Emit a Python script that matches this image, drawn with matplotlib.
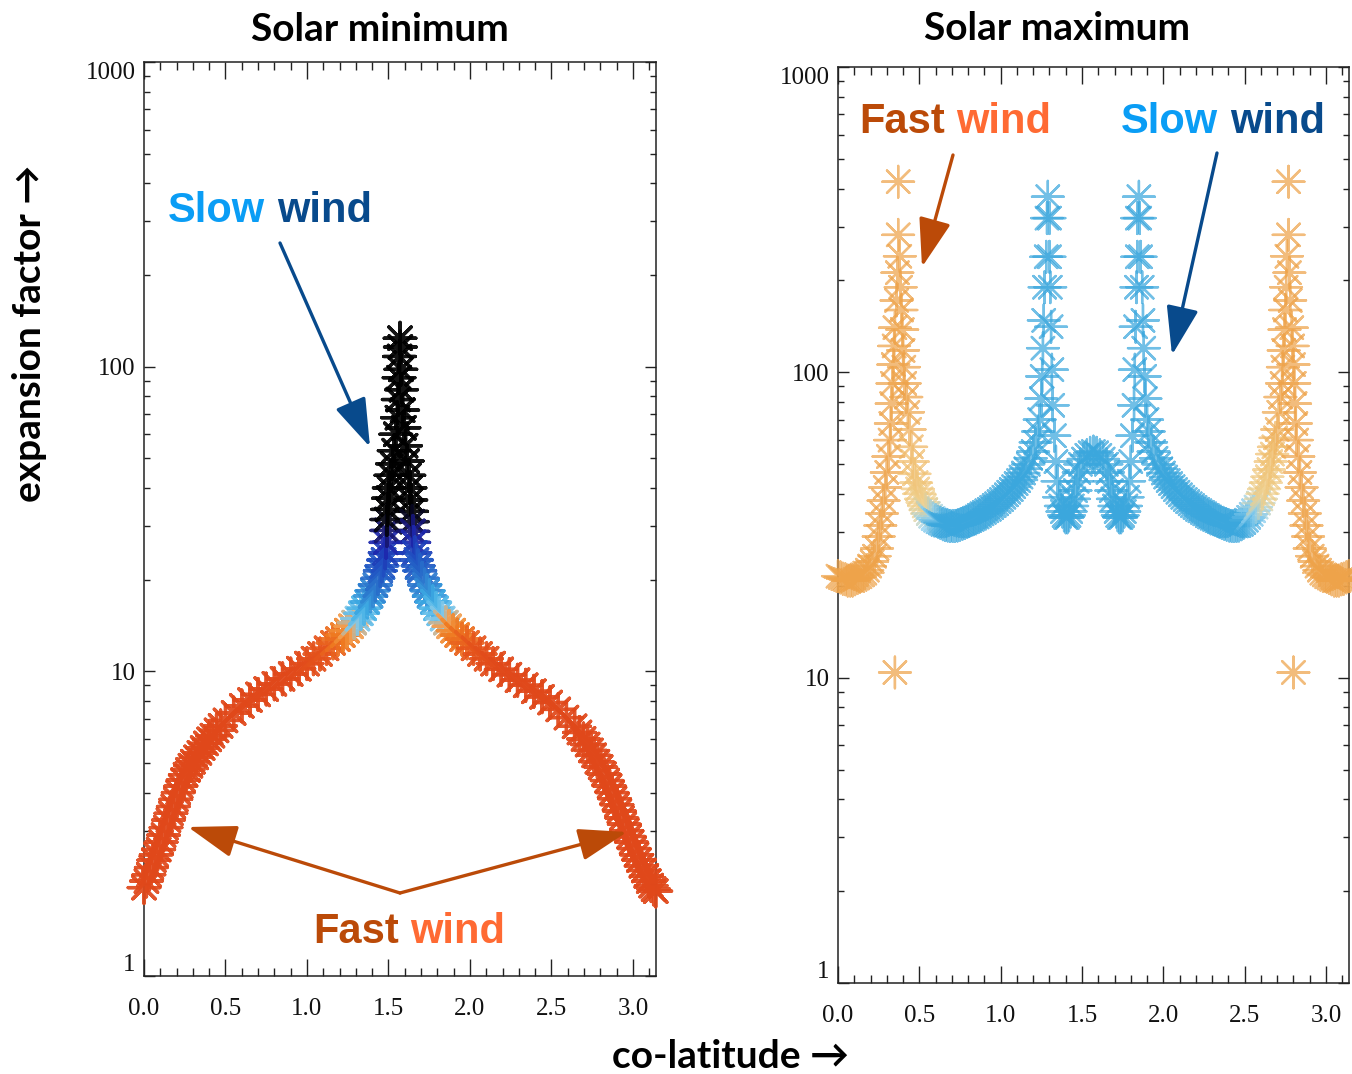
import numpy as np
import matplotlib
matplotlib.use("Agg")
import matplotlib.pyplot as plt
from matplotlib.colors import LinearSegmentedColormap, LogNorm, Normalize
from matplotlib.ticker import MultipleLocator, FixedLocator, FormatStrFormatter, NullFormatter
from matplotlib.patches import FancyArrowPatch
from matplotlib.text import Annotation

# ---- solar minimum (co-latitude in rad, expansion factor) ----
min_north_theta = [0.000, 0.015, 0.030, 0.045, 0.060, 0.075, 0.090, 0.105, 0.120, 0.135,
                   0.150, 0.165, 0.180, 0.195, 0.210, 0.225, 0.240, 0.255, 0.270, 0.285,
                   0.300, 0.320, 0.340, 0.360, 0.380, 0.400, 0.420, 0.445, 0.470, 0.500,
                   0.550, 0.600, 0.650, 0.700, 0.750, 0.800, 0.850, 0.900, 0.950, 1.000,
                   1.040, 1.080, 1.120, 1.160, 1.190, 1.220, 1.245, 1.270, 1.290, 1.310,
                   1.330, 1.350, 1.370, 1.390, 1.405, 1.420, 1.435, 1.450, 1.460, 1.470,
                   1.480, 1.485, 1.490, 1.490, 1.495, 1.500, 1.505, 1.515, 1.525, 1.535,
                   1.545, 1.555, 1.560, 1.565, 1.568, 1.571]
min_north_f = [1.95, 2.05, 2.15, 2.27, 2.40, 2.50, 2.60, 2.75, 2.90, 3.07,
               3.25, 3.42, 3.60, 3.80, 4.00, 4.20, 4.40, 4.58, 4.75, 4.90,
               5.05, 5.22, 5.40, 5.60, 5.80, 5.98, 6.15, 6.40, 6.62, 6.90,
               7.30, 7.70, 8.05, 8.40, 8.75, 9.10, 9.45, 9.80, 10.2, 10.6,
               11.0, 11.4, 11.9, 12.4, 12.75, 13.15, 13.6, 14.05, 14.45, 14.9,
               15.5, 16.1, 16.9, 17.7, 18.4, 19.2, 20.2, 21.4, 22.2, 23.2,
               24.5, 26.5, 29.0, 31.5, 34.0, 37.0, 40.0, 44.0, 48.0, 53.0,
               60.0, 68.0, 78.0, 92.0, 108.0, 124.0]

min_south_theta = [1.573, 1.576, 1.580, 1.587, 1.595, 1.605, 1.615, 1.625, 1.632, 1.637,
                   1.642, 1.646, 1.650, 1.655, 1.662, 1.672, 1.682, 1.692, 1.707, 1.722,
                   1.737, 1.752, 1.772, 1.792, 1.812, 1.832, 1.852, 1.872, 1.897, 1.922,
                   1.952, 1.982, 2.022, 2.062, 2.102, 2.142, 2.192, 2.242, 2.292, 2.342,
                   2.392, 2.442, 2.492, 2.542, 2.592, 2.642, 2.672, 2.697, 2.722, 2.742,
                   2.762, 2.782, 2.802, 2.822, 2.842, 2.857, 2.872, 2.887, 2.902, 2.917,
                   2.932, 2.947, 2.962, 2.977, 2.992, 3.007, 3.022, 3.037, 3.052, 3.067,
                   3.082, 3.097, 3.112, 3.127, 3.140]
min_south_f = [116, 98, 84, 72, 63, 55, 49, 44, 40, 36.5,
               33.5, 31, 28.8, 26.5, 24.5, 23.2, 22.2, 21.4, 20.2, 19.2,
               18.4, 17.7, 16.9, 16.1, 15.5, 14.9, 14.45, 14.05, 13.6, 13.15,
               12.75, 12.4, 11.9, 11.4, 11.0, 10.6, 10.15, 9.75, 9.35, 9.0,
               8.6, 8.25, 7.9, 7.5, 7.05, 6.6, 6.3, 6.0, 5.75, 5.5,
               5.3, 5.05, 4.85, 4.6, 4.38, 4.2, 4.0, 3.82, 3.65, 3.48,
               3.3, 3.15, 3.0, 2.87, 2.75, 2.62, 2.5, 2.4, 2.3, 2.22,
               2.13, 2.05, 1.98, 1.93, 1.9]

# ---- solar maximum, segment by segment from north to south pole ----
cap_n_theta = [0.00, 0.015, 0.03, 0.045, 0.06, 0.075, 0.09, 0.105, 0.12, 0.135,
               0.15, 0.165, 0.18, 0.195, 0.21, 0.225]
cap_n_f = [21.5, 21.3, 21.1, 21.0, 20.8, 20.8, 20.8, 21.0, 21.2, 21.4,
           21.7, 22.0, 22.5, 23.2, 24.0, 25.0]
peak_fn_theta = [0.24, 0.25, 0.26, 0.27, 0.28, 0.29, 0.30, 0.31, 0.32, 0.325,
                 0.33, 0.335, 0.34, 0.345, 0.35, 0.36, 0.365, 0.37, 0.37,
                 0.38, 0.385, 0.39, 0.395, 0.40, 0.405, 0.41, 0.42, 0.43, 0.44,
                 0.45, 0.46, 0.47, 0.48, 0.49, 0.50, 0.51, 0.52, 0.53, 0.54]
peak_fn_f = [26.5, 29, 31.5, 34.5, 38, 42, 47, 53, 60, 68,
             79, 92, 106, 122, 140, 172, 212, 282, 421,
             240, 190, 160, 138, 118, 104, 92, 83, 74, 65,
             57, 51, 46.5, 43.5, 41.5, 40, 38.5, 37.5, 36.5, 35.5]
slow_n_theta = [0.555, 0.57, 0.585, 0.60, 0.615, 0.63, 0.645, 0.66, 0.675, 0.69,
                0.705, 0.72, 0.735, 0.75, 0.765, 0.78, 0.795, 0.81, 0.825, 0.84,
                0.855, 0.87, 0.885, 0.90, 0.915, 0.93, 0.945, 0.96, 0.975, 0.99,
                1.005, 1.02, 1.035, 1.05, 1.065, 1.08, 1.095, 1.11, 1.125, 1.14,
                1.155, 1.17, 1.185, 1.20]
slow_n_f = [34.5, 33.8, 33.2, 32.8, 32.4, 32.1, 31.8, 31.6, 31.5, 31.4,
            31.4, 31.4, 31.5, 31.7, 31.9, 32.1, 32.4, 32.7, 33.0, 33.3,
            33.6, 34.0, 34.4, 34.8, 35.2, 35.6, 36.1, 36.6, 37.1, 37.7,
            38.3, 39.0, 39.7, 40.5, 41.3, 42.2, 43.2, 44.2, 45.4, 46.8,
            48.3, 50, 52.3, 55]
peak_sn_theta = [1.215, 1.23, 1.24, 1.25, 1.255, 1.26, 1.265, 1.27, 1.28, 1.285, 1.29,
                 1.30, 1.30, 1.305, 1.31, 1.315, 1.32, 1.33, 1.34, 1.35, 1.36,
                 1.37, 1.38, 1.39, 1.40, 1.41, 1.42, 1.43, 1.44, 1.45, 1.46,
                 1.47, 1.48, 1.49, 1.51, 1.53, 1.55, 1.57]
peak_sn_f = [59, 64, 70, 82, 97, 120, 148, 190, 239, 320, 376,
             320, 239, 190, 141, 102, 78, 62, 51, 44, 39,
             36.5, 35, 34, 33.5, 33.5, 34, 35, 36.5, 38.5, 41,
             44, 47, 50, 52, 53.5, 54.5, 55]
peak_ss_theta = [1.59, 1.61, 1.63, 1.65, 1.66, 1.67, 1.68, 1.69, 1.70, 1.71,
                 1.72, 1.73, 1.74, 1.75, 1.76, 1.77, 1.78, 1.79, 1.80, 1.81,
                 1.82, 1.825, 1.83, 1.835, 1.84, 1.84, 1.85,
                 1.855, 1.86, 1.87, 1.875, 1.88, 1.885, 1.89, 1.90, 1.91, 1.925, 1.94]
peak_ss_f = [54.5, 53.5, 52, 50, 47, 44, 41, 38.5, 36.5, 35,
             34, 33.5, 33.5, 34, 35, 36.5, 39, 44, 51, 62,
             78, 102, 141, 190, 239, 320, 376,
             320, 239, 190, 148, 120, 97, 82, 70, 64, 59, 55]
slow_s_theta = [1.955, 1.97, 1.985, 2.00, 2.015, 2.03, 2.045, 2.06, 2.075, 2.09,
                2.105, 2.12, 2.135, 2.15, 2.165, 2.18, 2.195, 2.21, 2.225, 2.24,
                2.255, 2.27, 2.285, 2.30, 2.315, 2.33, 2.345, 2.36, 2.375, 2.39,
                2.405, 2.42, 2.435, 2.45, 2.465, 2.48, 2.495, 2.51, 2.525, 2.54,
                2.555, 2.57, 2.585, 2.60]
slow_s_f = [52.3, 50, 48.3, 46.8, 45.4, 44.2, 43.2, 42.2, 41.3, 40.5,
            39.7, 39.0, 38.3, 37.7, 37.1, 36.6, 36.1, 35.6, 35.2, 34.8,
            34.4, 34.0, 33.6, 33.3, 33.0, 32.7, 32.4, 32.1, 31.9, 31.7,
            31.5, 31.4, 31.4, 31.4, 31.5, 31.8, 32.2, 32.8, 33.5, 34.3,
            35.2, 36.2, 37.3, 38.5]
peak_fs_theta = [2.61, 2.62, 2.63, 2.64, 2.65, 2.66, 2.67, 2.68, 2.69, 2.70,
                 2.71, 2.72, 2.73, 2.735, 2.74, 2.745, 2.75, 2.755, 2.76, 2.77,
                 2.77, 2.775, 2.78, 2.79, 2.795, 2.80, 2.805, 2.81, 2.815, 2.82,
                 2.83, 2.84, 2.85, 2.86, 2.87, 2.88, 2.89, 2.90]
peak_fs_f = [40, 41.5, 43.5, 45.5, 48, 51, 54, 57, 61, 65,
             74, 83, 92, 104, 118, 138, 160, 190, 240, 421,
             282, 212, 172, 140, 122, 106, 92, 79, 68, 60,
             53, 47, 42, 38, 34.5, 31.5, 29, 26.5]
cap_s_theta = [2.915, 2.93, 2.945, 2.96, 2.975, 2.99, 3.005, 3.02, 3.035, 3.05,
               3.065, 3.08, 3.095, 3.11, 3.125, 3.14]
cap_s_f = [25.0, 24.0, 23.2, 22.5, 22.0, 21.7, 21.4, 21.2, 21.0, 20.8,
           20.8, 20.8, 21.0, 21.1, 21.3, 21.5]
stray_theta = [0.35, 2.80]
stray_f = [10.4, 10.4]

x_ticks = [0.0, 0.5, 1.0, 1.5, 2.0, 2.5, 3.0]
y_ticks = [1, 10, 100, 1000]
y_tick_labels = ["1", "10", "100", "1000"]

W, H = 1352, 1074
fig = plt.figure(figsize=(W / 100, H / 100), dpi=100)


def px(x, y):
    return (x / W, 1 - y / H)


def style_axes(ax):
    ax.set_yscale("log")
    ax.set_xlim(0, np.pi)
    ax.set_ylim(1, 1000)
    ax.xaxis.set_major_locator(FixedLocator(x_ticks))
    ax.xaxis.set_minor_locator(MultipleLocator(0.1))
    ax.xaxis.set_major_formatter(FormatStrFormatter("%.1f"))
    ax.yaxis.set_major_locator(FixedLocator(y_ticks))
    minors = [m * d for d in (1, 10, 100) for m in range(2, 10)]
    ax.yaxis.set_minor_locator(FixedLocator(minors))
    ax.yaxis.set_minor_formatter(NullFormatter())
    ax.set_yticklabels(y_tick_labels)
    ax.tick_params(which="both", direction="in", top=True, right=True,
                   width=1.0, color="#222222", labelsize=18, labelcolor="#111111")
    ax.tick_params(axis="x", which="major", length=12, pad=16)
    ax.tick_params(axis="x", which="minor", length=6)
    ax.tick_params(axis="y", which="major", length=8, pad=6)
    ax.tick_params(axis="y", which="minor", length=4.5)
    for lab in ax.get_xticklabels() + ax.get_yticklabels():
        lab.set_family("Liberation Serif")
    ticks = ax.yaxis.get_major_ticks()
    ticks[0].label1.set_va("bottom")
    ticks[-1].label1.set_va("top")
    for sp in ax.spines.values():
        sp.set_linewidth(1.1)
        sp.set_color("#222222")


ax1 = fig.add_axes([144 / W, (H - 976) / H, 512 / W, 914 / H])
ax2 = fig.add_axes([838 / W, (H - 983) / H, 511 / W, 916 / H])
style_axes(ax1)
style_axes(ax2)

# colour along the solar-minimum curve follows the expansion factor
stop_f = [10, 12.0, 13.3, 14.2, 14.9, 16.5, 19.5, 23.5, 27.5, 29.5, 32]
stop_c = ["#e0481a", "#e6561c", "#f07f22", "#f4a55a", "#7cc8ee", "#3eaee4",
          "#2a74cc", "#1f4cc0", "#1c1ca8", "#141460", "#000000"]
pos = [(np.log10(v) - 1) / (np.log10(32) - 1) for v in stop_f]
cmap_min = LinearSegmentedColormap.from_list("solmin", list(zip(pos, stop_c)))
norm_min = LogNorm(vmin=10, vmax=32)

star = (8, 2, 0)
for th, f in ((min_north_theta, min_north_f), (min_south_theta, min_south_f)):
    ax1.scatter(th, f, c=f, cmap=cmap_min, norm=norm_min, marker=star,
                s=520, linewidths=2.4, alpha=0.92, clip_on=False, zorder=3)

# solar maximum: colour by distance from the nearest pole
max_theta = np.concatenate([cap_n_theta, peak_fn_theta, slow_n_theta, peak_sn_theta,
                            peak_ss_theta, slow_s_theta, peak_fs_theta, cap_s_theta,
                            stray_theta])
max_f = np.concatenate([cap_n_f, peak_fn_f, slow_n_f, peak_sn_f,
                        peak_ss_f, slow_s_f, peak_fs_f, cap_s_f, stray_f])
stop_d = [0.30, 0.42, 0.47, 0.53, 0.58, 0.64, 0.75]
stop_c2 = ["#eea34a", "#eea34a", "#f0c070", "#efd08e", "#8fd0ef", "#3ba7dd", "#3ba7dd"]
pos2 = [(v - 0.30) / 0.45 for v in stop_d]
cmap_max = LinearSegmentedColormap.from_list("solmax", list(zip(pos2, stop_c2)))
pole_dist = np.minimum(max_theta, np.pi - max_theta)
ax2.scatter(max_theta, max_f, c=pole_dist, cmap=cmap_max, norm=Normalize(0.30, 0.75),
            marker=star, s=520, linewidths=1.7, alpha=0.72, clip_on=False, zorder=3)

# titles and axis labels
lato = ["Lato", "DejaVu Sans"]
fig.text(*px(380, 41), "Solar minimum", ha="center", va="baseline",
         family=lato, fontweight="bold", fontsize=28)
fig.text(*px(1057, 40), "Solar maximum", ha="center", va="baseline",
         family=lato, fontweight="bold", fontsize=28)
fig.text(*px(30, 333), "expansion factor \u2192", rotation=90, ha="center", va="center",
         family=lato, fontweight="bold", fontsize=28)
fig.text(*px(731, 1057), "co-latitude \u2192", ha="center", va="center",
         family=lato, fontweight="bold", fontsize=28)

RUST = "#bb4a08"
ORANGE = "#ff6a33"
SKY = "#0a9df5"
NAVY = "#084a8c"


def two_tone(x, y, w1, c1, w2, c2):
    t1 = fig.text(*px(x, y), w1, color=c1, fontsize=30, fontweight="bold",
                  family="Liberation Sans", va="baseline", ha="left", zorder=6)
    t2 = Annotation(w2, xy=(1, 0), xycoords=t1, xytext=(8.4, 0), textcoords="offset points",
                    color=c2, fontsize=30, fontweight="bold", family="Liberation Sans",
                    va="bottom", ha="left", zorder=6)
    fig.add_artist(t2)


two_tone(168, 222, "Slow", SKY, "wind", NAVY)
two_tone(313, 943, "Fast", RUST, "wind", ORANGE)
two_tone(859, 133, "Fast", RUST, "wind", ORANGE)
two_tone(1121, 133, "Slow", SKY, "wind", NAVY)


def arrow(start, tip, color):
    fig.add_artist(FancyArrowPatch(px(*start), px(*tip), transform=fig.transFigure,
                                   arrowstyle="-|>,head_length=3.0,head_width=1.0",
                                   mutation_scale=10, lw=2.4, color=color,
                                   shrinkA=0, shrinkB=0, zorder=5))


arrow((280, 243), (370, 447), NAVY)
arrow((400, 893), (188, 827), RUST)
arrow((400, 893), (627, 832), RUST)
arrow((953, 155), (922, 267), RUST)
arrow((1217, 153), (1172, 355), NAVY)

fig.savefig("out.png", dpi=100, facecolor="white")
